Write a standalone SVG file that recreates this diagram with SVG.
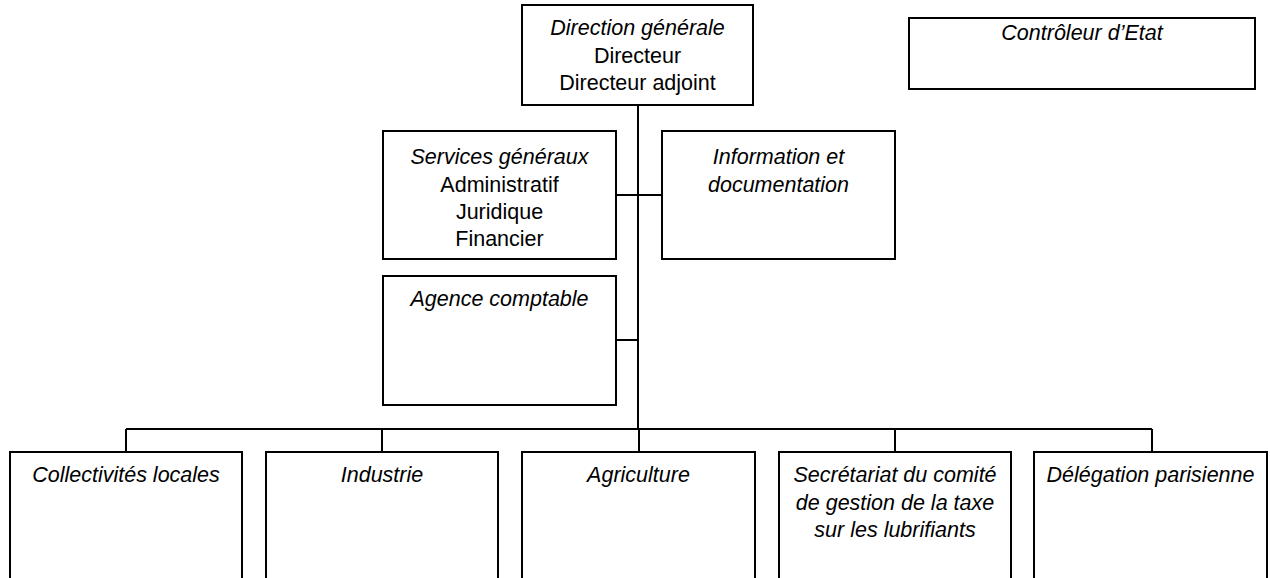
<svg xmlns="http://www.w3.org/2000/svg" width="1270" height="578" viewBox="0 0 1270 578">
<style>
.box{fill:#fff;stroke:#000;stroke-width:2}
.ln{fill:none;stroke:#000;stroke-width:2}
text{font-family:"Liberation Sans",Arial,sans-serif;font-size:21.5px;fill:#000;text-anchor:middle}
.i{font-style:italic}
</style>
<rect width="1270" height="578" fill="#fff"/>
<g id="connectors">
<path class="ln" d="M638,105 V429 M616,195 H662 M616,340 H638 M126,429 H1152 M126,429 V452 M382,429 V452 M639,429 V452 M895,429 V452 M1152,429 V452"/>
</g>
<g id="direction">
<rect class="box" x="522" y="5" width="231" height="100"/>
<text class="i" x="637.5" y="35">Direction générale</text>
<text x="637.5" y="63">Directeur</text>
<text x="637.5" y="90">Directeur adjoint</text>
</g>
<g id="controleur">
<rect class="box" x="909" y="18" width="346" height="71"/>
<text class="i" x="1082" y="40">Contrôleur d’Etat</text>
</g>
<g id="services">
<rect class="box" x="383" y="131" width="233" height="128"/>
<text class="i" x="499.5" y="164">Services généraux</text>
<text x="499.5" y="192">Administratif</text>
<text x="499.5" y="219">Juridique</text>
<text x="499.5" y="246">Financier</text>
</g>
<g id="information">
<rect class="box" x="662" y="131" width="233" height="128"/>
<text class="i" x="778.5" y="164">Information et</text>
<text class="i" x="778.5" y="192">documentation</text>
</g>
<g id="agence">
<rect class="box" x="383" y="276" width="233" height="129"/>
<text class="i" x="499.5" y="306">Agence comptable</text>
</g>
<g id="collectivites">
<rect class="box" x="10" y="452" width="232" height="140"/>
<text class="i" x="126" y="482">Collectivités locales</text>
</g>
<g id="industrie">
<rect class="box" x="266" y="452" width="232" height="140"/>
<text class="i" x="382" y="482">Industrie</text>
</g>
<g id="agriculture">
<rect class="box" x="522" y="452" width="233" height="140"/>
<text class="i" x="638.5" y="482">Agriculture</text>
</g>
<g id="secretariat">
<rect class="box" x="779" y="452" width="232" height="140"/>
<text class="i" x="895" y="482">Secrétariat du comité</text>
<text class="i" x="895" y="510">de gestion de la taxe</text>
<text class="i" x="895" y="537">sur les lubrifiants</text>
</g>
<g id="delegation">
<rect class="box" x="1034" y="452" width="233" height="140"/>
<text class="i" x="1150.5" y="482">Délégation parisienne</text>
</g>
</svg>
